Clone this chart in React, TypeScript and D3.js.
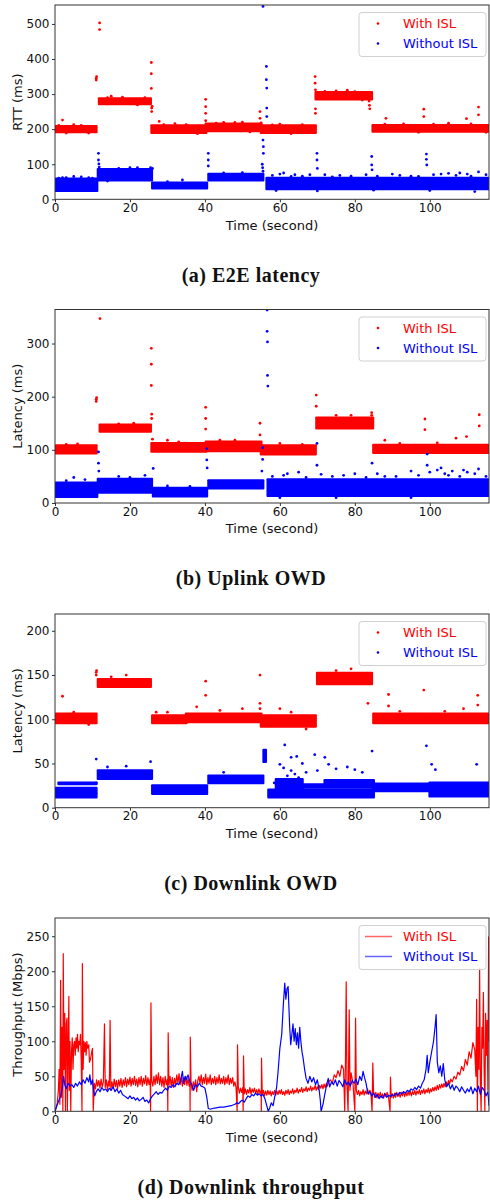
import React, { useEffect, useRef } from "react";
import * as d3 from "d3";

type Band = [number, number, number, number]; // t0, t1, lo, hi
type Pt = [number, number];

const xTicks = [0, 20, 40, 60, 80, 100];
const e2eTicks = [0, 100, 200, 300, 400, 500];
const upTicks = [0, 100, 200, 300];
const downTicks = [0, 50, 100, 150, 200];
const thrTicks = [0, 50, 100, 150, 200, 250];
const seriesNames = ["With ISL", "Without ISL"];
const captions = ["(a) E2E latency", "(b) Uplink OWD", "(c) Downlink OWD", "(d) Downlink throughput"];
const yLabels = ["RTT (ms)", "Latency (ms)", "Latency (ms)", "Throughput (Mbps)"];

// (a) E2E latency
const e2eIslBands: Band[] = [
  [0.3, 11, 192, 208], [11.8, 25.5, 272, 287], [25.8, 40.3, 190, 210],
  [40.3, 55, 195, 215], [55, 69.5, 190, 210], [69.6, 84.5, 286, 305], [84.8, 115.8, 194, 211],
];
const e2eIslPts: Pt[] = [
  [2, 226], [11, 340], [11, 345], [11.1, 350], [11.9, 484], [11.9, 503], [15, 294], [25.7, 390],
  [25.7, 358], [25.7, 316], [25.8, 260], [25.8, 250], [25.9, 265], [27.8, 222], [40.2, 285],
  [40.2, 264], [40.2, 245], [40.2, 224], [54.7, 250], [54.7, 231], [55, 218], [69.4, 350],
  [69.4, 331], [69.5, 312], [69.5, 258], [69.5, 245], [83.8, 280], [83.9, 268], [84, 258],
  [88.3, 231], [98.4, 257], [98.4, 236], [109.8, 230], [113, 263], [113, 241], [5, 213],
  [32, 216], [45, 219], [60, 214], [75, 309], [78, 311], [93, 215], [105, 217], [50, 220],
  [1, 211], [3, 189], [7, 211], [9, 189], [14, 290], [18, 291], [22, 269], [24, 290], [29, 213],
  [35, 213], [38, 187], [43, 217], [48, 219], [52, 192], [58, 212], [63, 187], [66, 213], [72, 308],
  [80, 307], [82, 283], [88, 214], [97, 191], [101, 214], [111, 215], [115, 191],
];
const e2eNoIslBands: Band[] = [
  [0.3, 11.2, 25, 58], [11.5, 25.8, 55, 85], [26, 40.5, 32, 47], [41, 55.5, 55, 72], [56.5, 115.8, 30, 60],
];
const e2eNoIslPts: Pt[] = [
  [11.6, 131], [11.6, 112], [11.7, 101], [11.8, 92], [26, 88], [25.5, 90], [40.9, 131], [40.9, 112],
  [40.9, 95], [55.3, 100], [55.4, 90], [55.5, 80], [55.5, 169], [55.6, 150], [55.6, 131], [55.5, 550],
  [56.4, 379], [56.4, 341], [56.5, 317], [56.5, 260], [56.5, 236], [69.9, 131], [69.9, 112],
  [70, 88], [84.5, 122], [84.5, 98], [84.6, 84], [99.1, 129], [99.1, 114], [99.2, 98], [5, 65],
  [9, 62], [34, 55], [61, 75], [64, 70], [76, 68], [90, 72], [101, 70], [105, 74], [110, 72],
  [113, 78], [2, 62], [17, 88], [22, 90], [66, 66], [72, 70], [95, 66], [107, 68],
  [58, 68], [60, 72], [63, 65], [68, 70], [74, 64], [79, 66], [83, 70], [86, 66], [92, 68], [97, 65],
  [103, 72], [108, 75], [111, 66], [115, 70], [59, 25], [70, 24], [85, 26], [100, 25], [112, 22],
  [1, 60], [3, 62], [7, 64], [10, 60], [14, 52], [20, 90], [30, 50], [45, 75], [50, 76],
];

// (b) Uplink OWD
const upIslBands: Band[] = [
  [0.3, 11, 94, 108], [12, 25.5, 135, 147], [25.8, 40.3, 97, 112], [40.3, 55, 98, 115],
  [55, 69.5, 92, 108], [69.8, 84.8, 141, 160], [85, 115.8, 95, 109],
];
const upIslPts: Pt[] = [
  [11, 191], [11, 195], [11.1, 198], [12, 347], [25.7, 291], [25.7, 261], [25.7, 221], [25.8, 167],
  [25.8, 159], [26, 120], [40.2, 180], [40.2, 159], [40.2, 139], [54.7, 150], [54.7, 128],
  [69.7, 203], [69.7, 182], [84.5, 170], [84.5, 165], [98.7, 158], [98.7, 138], [113.2, 166],
  [113.2, 145], [109.8, 125], [107, 122], [88, 118], [30, 118], [21, 150], [75, 165], [79, 165],
  [3, 110], [60, 112], [48, 118], [6, 111], [17, 149], [33, 115], [44, 118], [66, 110], [92, 112],
  [102, 113],
];
const upNoIslBands: Band[] = [
  [0.3, 11.2, 12, 38], [11.5, 25.8, 20, 45], [26.2, 40.5, 13, 28], [41, 55.5, 28, 42], [56.8, 115.8, 14, 44],
];
const upNoIslPts: Pt[] = [
  [11.6, 96], [11.6, 75], [11.7, 60], [26.2, 65], [40.5, 102], [40.5, 81], [40.6, 66], [55.4, 82],
  [55.4, 104], [55.2, 60], [56.6, 363], [56.6, 323], [56.7, 303], [56.7, 240], [56.8, 220],
  [69.9, 112], [69.9, 71], [84.6, 75], [99.3, 92], [99.3, 71], [5, 48], [17, 50], [24, 52],
  [62, 55], [65, 58], [80, 55], [95, 60], [102, 62], [106, 60], [110, 58], [113, 64], [108, 50],
  [20, 48], [104, 55], [88, 50], [58, 50], [61, 52], [67, 48], [71, 54], [74, 50], [77, 52],
  [83, 48], [86, 55], [91, 50], [97, 52], [100, 58], [103, 66], [105, 52], [109, 62], [112, 55],
  [115, 50], [60, 10], [75, 10], [95, 10], [3, 42], [8, 44], [30, 32], [36, 31],
];

// (c) Downlink OWD
const downIslBands: Band[] = [
  [0.3, 11, 96, 106], [11.5, 25.5, 137, 145], [26, 35, 96, 104], [35, 55, 97, 106],
  [55, 69.5, 92, 104], [70, 84.5, 140, 152], [85, 115.8, 96, 106],
];
const downIslPts: Pt[] = [
  [2, 126], [11, 150], [11, 153], [11.1, 155], [15, 148], [19, 150], [27, 108], [37.8, 114],
  [40.2, 143], [40.2, 127], [54.7, 150], [54.7, 118], [54.7, 112], [83.5, 118], [89, 128],
  [89, 115], [98.4, 133], [112.8, 127], [112.8, 116], [75, 155], [79, 157], [109, 112], [50, 112], [60, 112],
  [5, 108], [9, 94], [30, 108], [44, 110], [63, 108], [67, 89], [92, 109], [104, 109],
];
const downNoIslBands: Band[] = [
  [0.3, 11, 12, 16], [0.3, 11, 18, 22], [1, 11, 27, 28], [11.5, 25.8, 33, 42], [26, 40.5, 16, 25],
  [41, 55.5, 28, 36], [55.7, 56.2, 52, 65], [57, 85, 12, 20], [60, 85, 23, 26], [72, 85, 28, 31],
  [59, 66, 13, 32], [85, 100, 19, 27], [100, 115.8, 13, 24], [100, 115.8, 26, 28],
];
const downNoIslPts: Pt[] = [
  [11, 55], [11, 28], [14, 46], [19, 47], [25.5, 52], [45, 40], [60, 49], [61.3, 71], [63, 57],
  [64.5, 58], [69.3, 60], [72, 57], [73, 49], [75, 44], [78, 46], [80, 43], [84.6, 64], [99.1, 70],
  [100.5, 49], [101.5, 43], [112.5, 49], [66, 50], [82, 40], [58.5, 28], [62, 36], [64, 38],
  [65, 34], [67, 40], [70, 42], [61, 45], [63, 42],
];

// (d) Downlink throughput
const thrIsl: Pt[] = [
  [0, 0], [0.3, 5], [0.6, 12], [0.9, 30], [1.1, 60], [1.3, 10], [1.5, 187], [1.7, 20], [1.9, 120],
  [2.1, 0], [2.2, 225], [2.4, 60], [2.6, 140], [2.8, 0], [3.0, 125], [3.2, 133], [3.3, 0], [3.5, 90],
  [3.7, 164], [3.8, 30], [4.0, 100], [4.2, 0], [4.4, 85], [4.6, 105], [4.8, 60], [5.0, 95], [5.2, 100],
  [5.4, 80], [5.6, 105], [5.8, 90], [6.0, 110], [6.2, 85], [6.4, 100], [6.6, 95], [6.8, 110], [7.0, 70],
  [7.2, 0], [7.3, 211], [7.5, 60], [7.7, 100], [7.9, 85], [8.1, 98], [8.3, 80], [8.5, 100], [8.7, 90],
  [9.0, 95], [9.2, 70], [9.5, 75], [9.8, 85], [10.0, 90], [10.2, 0],
  [10.5, 40], [10.8, 32], [11.1, 45], [11.4, 36], [11.7, 44], [12.0, 33], [12.3, 46], [12.6, 35],
  [12.9, 42], [13.2, 125], [13.4, 34], [13.7, 45], [14.0, 31], [14.3, 43], [14.5, 36], [14.7, 130],
  [14.9, 30], [15.2, 42], [15.5, 33], [15.8, 46], [16.1, 35], [16.4, 44], [16.7, 32], [17.0, 45],
  [17.3, 36], [17.6, 47], [17.9, 34], [18.2, 45], [18.5, 37], [18.8, 48], [19.1, 35], [19.4, 46],
  [19.7, 38], [20.0, 49], [20.3, 36], [20.6, 47], [20.9, 38], [21.2, 50], [21.5, 37], [21.8, 46],
  [22.1, 35], [22.4, 48], [22.7, 38], [23.0, 50], [23.3, 36], [23.6, 47], [23.9, 39], [24.2, 51],
  [24.5, 37], [24.8, 48], [25.1, 38], [25.4, 46], [25.5, 0], [25.6, 155], [25.8, 44], [26.1, 36],
  [26.4, 50], [26.7, 38], [27.0, 52], [27.3, 40], [27.6, 55], [27.9, 38], [28.2, 50], [28.5, 36],
  [28.8, 48], [29.1, 34], [29.4, 50], [29.7, 38], [30.0, 46], [30.1, 0], [30.2, 112], [30.4, 38],
  [30.7, 50], [31.0, 36], [31.3, 48], [31.6, 34], [31.9, 47], [32.2, 38], [32.5, 52], [32.8, 40],
  [33.1, 54], [33.4, 38], [33.7, 49], [34.0, 36], [34.3, 48], [34.6, 38], [34.9, 50], [35.2, 37],
  [35.5, 47], [35.8, 36], [36.0, 40], [36.05, 0], [36.1, 106], [36.3, 40], [36.6, 30], [36.9, 42],
  [37.2, 33], [37.5, 45], [37.8, 28], [38.1, 44], [38.4, 50], [38.7, 40], [39.0, 52], [39.3, 38],
  [39.6, 48], [39.9, 40], [40.2, 53], [40.5, 38], [40.8, 48], [41.1, 40], [41.4, 52], [41.7, 38],
  [42.0, 47], [42.3, 40], [42.6, 50], [42.9, 38], [43.2, 48], [43.5, 40], [43.8, 52], [44.1, 39],
  [44.4, 47], [44.7, 40], [45.0, 50], [45.3, 38], [45.6, 48], [45.9, 40], [46.2, 52], [46.5, 38],
  [46.8, 47], [47.1, 40], [47.4, 48], [47.7, 36], [48.0, 42], [48.3, 34], [48.6, 0],
  [48.7, 95], [48.9, 35], [49.2, 26], [49.5, 33], [49.8, 27], [50.1, 34], [50.2, 0], [50.3, 79],
  [50.5, 25], [50.8, 32], [51.1, 24], [51.4, 31], [51.7, 26], [52.0, 34], [52.3, 25], [52.6, 32],
  [52.9, 27], [53.2, 33], [53.5, 26], [53.8, 31], [54.1, 24], [54.4, 32], [54.7, 26], [55.0, 30],
  [55.05, 0], [55.1, 76], [55.3, 24], [55.6, 30], [55.9, 22], [56.2, 29], [56.5, 23], [56.8, 30],
  [57.1, 24], [57.4, 29], [57.7, 22], [58.0, 28], [58.3, 24], [58.6, 30], [58.9, 23], [59.2, 29],
  [59.5, 24], [59.8, 30], [60.1, 25], [60.4, 31], [60.7, 24], [61.0, 28], [61.3, 23], [61.6, 30],
  [61.9, 25], [62.2, 31], [62.5, 24], [62.8, 29], [63.1, 26], [63.4, 32], [63.7, 25], [64.0, 30],
  [64.3, 27], [64.6, 33], [64.9, 26], [65.2, 31], [65.5, 28], [65.8, 34], [66.1, 27], [66.4, 32],
  [66.7, 29], [67.0, 35], [67.3, 28], [67.6, 33], [67.9, 30], [68.2, 36], [68.5, 29], [68.8, 34],
  [69.1, 31], [69.4, 37], [69.7, 30], [70.0, 35], [70.3, 31], [70.6, 37], [70.9, 33], [71.2, 38],
  [71.5, 32], [71.8, 39], [72.1, 34], [72.4, 40], [72.7, 36], [73.0, 42], [73.5, 45], [74, 40],
  [74.5, 52], [75, 48], [75.5, 58], [76, 50], [76.5, 66], [77, 60], [77.3, 0], [77.5, 70], [77.7, 185],
  [77.9, 40], [78.2, 0], [78.5, 145], [78.7, 30], [79, 55], [79.5, 40], [80, 0], [80.2, 133],
  [80.4, 30], [80.7, 24], [81.0, 30], [81.3, 22], [81.6, 28], [81.9, 24], [82.2, 31], [82.5, 23],
  [82.8, 29], [83.1, 25], [83.4, 32], [83.7, 24], [84.0, 30], [84.3, 26], [84.6, 0], [84.8, 69],
  [85.0, 28], [85.3, 20], [85.6, 27], [85.9, 19], [86.2, 26], [86.5, 21], [86.8, 27], [87.1, 20],
  [87.4, 25], [87.7, 19], [88.0, 26], [88.3, 21], [88.6, 27], [89.0, 20], [89.4, 0], [89.5, 49],
  [89.7, 20], [90.0, 25], [90.3, 19], [90.6, 26], [90.9, 20], [91.2, 27], [91.5, 21], [91.8, 26],
  [92.1, 20], [92.4, 27], [92.7, 22], [93.0, 28], [93.3, 21], [93.6, 27], [93.9, 22], [94.2, 28],
  [94.5, 23], [94.8, 29], [95.1, 22], [95.4, 28], [95.7, 24], [96.0, 30], [96.3, 23], [96.6, 29],
  [96.9, 25], [97.2, 31], [97.5, 24], [97.8, 30], [98.1, 26], [98.4, 32], [98.7, 25], [99.0, 31],
  [99.3, 27], [99.6, 33], [99.9, 26], [100.2, 32], [100.5, 28], [100.8, 34], [101.1, 29], [101.4, 35],
  [101.7, 30], [102.0, 37], [102.3, 31], [102.6, 38], [102.9, 33], [103.2, 39], [103.5, 34],
  [103.8, 40], [104.1, 35], [104.4, 42], [104.7, 37], [105.0, 44], [105.3, 39], [105.6, 46], [106, 42],
  [106.5, 50], [107, 46], [107.5, 56], [108, 52], [108.5, 64], [109, 58], [109.5, 74], [110, 66],
  [110.5, 85], [111, 76], [111.5, 98], [112, 88], [112.3, 50], [112.5, 160], [112.7, 0], [112.9, 120],
  [113.1, 60], [113.3, 204], [113.5, 40], [113.7, 0], [113.9, 120], [114.1, 90], [114.3, 170],
  [114.5, 60], [114.7, 0], [114.9, 140], [115.1, 80], [115.3, 130], [115.5, 30], [115.7, 249], [115.8, 100],
];
const thrNoIsl: Pt[] = [
  [0, 0], [0.5, 8], [1, 15], [1.5, 22], [2, 35], [2.3, 50], [2.6, 38], [3, 32], [3.5, 40], [4, 36],
  [4.5, 38], [5, 34], [5.5, 40], [6, 36], [6.5, 42], [7, 38], [7.5, 45], [8, 40], [8.5, 48], [9, 42],
  [9.3, 52], [9.6, 38], [10, 45], [10.3, 30], [10.6, 22], [11, 28], [11.5, 32], [12, 28], [12.5, 34],
  [13, 30], [13.5, 32], [14, 28], [14.5, 33], [15, 30], [15.5, 35], [16, 28], [16.5, 32], [17, 26],
  [17.5, 30], [18, 24], [18.5, 22], [19, 20], [19.5, 18], [20, 22], [20.5, 18], [21, 20], [21.5, 16],
  [22, 19], [22.5, 15], [23, 17], [23.5, 20], [24, 14], [24.5, 16], [25, 12], [25.5, 18], [26, 22],
  [26.5, 25], [27, 28], [27.5, 24], [28, 27], [28.5, 26], [29, 30], [29.5, 33], [30, 30], [30.5, 36],
  [31, 34], [31.5, 38], [32, 35], [32.5, 40], [33, 38], [33.5, 44], [34, 57], [34.3, 40], [34.7, 50],
  [35, 45], [35.5, 52], [36, 42], [36.5, 38], [37, 30], [37.5, 38], [38, 35], [38.5, 40], [39, 36],
  [39.5, 35], [40, 33], [40.5, 20], [40.9, 4], [41.5, 3], [42, 4], [43, 5], [44, 6], [45, 6], [46, 7],
  [47, 8], [48, 10], [48.5, 12], [49, 11], [49.5, 14], [50, 16], [50.5, 13], [51, 18], [51.5, 22],
  [52, 20], [52.5, 24], [53, 22], [53.5, 26], [54, 23], [54.5, 25], [55, 22], [55.5, 24], [56, 18],
  [56.5, 8], [56.9, 0], [57.3, 5], [57.7, 12], [58.2, 8], [58.6, 20], [59.1, 33], [59.5, 55], [60, 90],
  [60.5, 110], [60.9, 150], [61.3, 183], [61.6, 160], [61.9, 175], [62.2, 178], [62.4, 150], [62.6, 123],
  [62.9, 95], [63.2, 110], [63.5, 125], [63.8, 100], [64.1, 118], [64.4, 95], [64.7, 112], [65, 90],
  [65.3, 120], [65.6, 100], [65.9, 85], [66.2, 76], [66.6, 60], [67, 47], [67.5, 40], [68, 50],
  [68.5, 42], [69, 48], [69.5, 38], [70, 45], [70.5, 30], [70.8, 15], [71, 0], [71.5, 10], [72, 25],
  [72.5, 38], [72.9, 47], [73.3, 35], [73.8, 42], [74.3, 38], [74.8, 45], [75.3, 36], [75.8, 44],
  [76.3, 40], [76.8, 35], [77.3, 45], [77.8, 38], [78.3, 42], [78.8, 36], [79.3, 44], [79.8, 40],
  [80.3, 46], [80.8, 38], [81.3, 50], [81.8, 44], [82.2, 57], [82.6, 48], [83, 40], [83.5, 25], [84, 28],
  [84.5, 22], [85, 26], [85.5, 20], [86, 24], [86.5, 18], [87, 22], [87.5, 19], [88, 25], [88.5, 20],
  [89, 23], [89.5, 21], [90, 24], [90.5, 22], [91, 26], [91.5, 23], [92, 27], [92.5, 25], [93, 28],
  [93.5, 26], [94, 30], [94.5, 28], [95, 32], [95.5, 30], [96, 34], [96.5, 31], [97, 36], [97.5, 33],
  [98, 40], [98.5, 45], [99, 60], [99.3, 80], [99.6, 55], [100, 70], [100.5, 85], [101, 100], [101.4, 120],
  [101.7, 138], [102, 71], [102.4, 55], [102.8, 65], [103.2, 50], [103.6, 68], [104, 45], [104.5, 35],
  [105, 40], [105.5, 32], [106, 38], [106.5, 30], [107, 36], [107.5, 33], [108, 28], [108.5, 35],
  [109, 30], [109.5, 26], [110, 32], [110.5, 28], [111, 35], [111.5, 25], [112, 33], [112.5, 28],
  [113, 36], [113.5, 24], [114, 34], [114.5, 30], [115, 22], [115.5, 28], [115.8, 8],
];

const RED = "#ff0000";
const BLUE = "#0000ff";
const X0 = 55;
const X1 = 489;
const T_MAX = 115.8;
const R = 1.4;

const layouts = [
  { top: 5, bottom: 199.3, yMax: 554, timeY: 225, capY: 275 },
  { top: 309.5, bottom: 503, yMax: 364, timeY: 528, capY: 578 },
  { top: 614, bottom: 807.7, yMax: 219, timeY: 833, capY: 883 },
  { top: 918, bottom: 1111.3, yMax: 276, timeY: 1137, capY: 1187 },
];
const yTickSets = [e2eTicks, upTicks, downTicks, thrTicks];
const scatterData = [
  [[e2eIslBands, e2eIslPts], [e2eNoIslBands, e2eNoIslPts]],
  [[upIslBands, upIslPts], [upNoIslBands, upNoIslPts]],
  [[downIslBands, downIslPts], [downNoIslBands, downNoIslPts]],
] as [Band[], Pt[]][][];

export default function App() {
  const svgRef = useRef<SVGSVGElement>(null);

  useEffect(() => {
    const svg = d3.select(svgRef.current);
    svg.selectAll("*").remove();
    const colors = [RED, BLUE];

    layouts.forEach((p, i) => {
      const x = d3.scaleLinear().domain([0, T_MAX]).range([X0, X1]);
      const y = d3.scaleLinear().domain([0, p.yMax]).range([p.bottom, p.top]);
      const g = svg.append("g");
      const clipId = "clip" + i;
      g.append("clipPath").attr("id", clipId).append("rect")
        .attr("x", X0).attr("y", p.top).attr("width", X1 - X0).attr("height", p.bottom - p.top);
      const plot = g.append("g").attr("clip-path", `url(#${clipId})`);

      if (i < 3) {
        scatterData[i].forEach(([bands, pts], si) => {
          plot.selectAll(null).data(bands).join("rect")
            .attr("x", d => x(d[0]) - R)
            .attr("y", d => y(d[3]) - R)
            .attr("width", d => x(d[1]) - x(d[0]) + 2 * R)
            .attr("height", d => y(d[2]) - y(d[3]) + 2 * R)
            .attr("rx", 1)
            .attr("fill", colors[si]);
          plot.selectAll(null).data(pts).join("circle")
            .attr("cx", d => x(d[0]))
            .attr("cy", d => y(d[1]))
            .attr("r", R)
            .attr("fill", colors[si]);
        });
      } else {
        const ln = d3.line<Pt>().x(d => x(d[0])).y(d => y(d[1]));
        [thrIsl, thrNoIsl].forEach((data, si) => {
          plot.append("path").datum(data)
            .attr("d", ln)
            .attr("fill", "none")
            .attr("stroke", colors[si])
            .attr("stroke-width", 1.2)
            .attr("stroke-linejoin", "round");
        });
      }

      // frame
      g.append("rect")
        .attr("x", X0).attr("y", p.top).attr("width", X1 - X0).attr("height", p.bottom - p.top)
        .attr("fill", "none").attr("stroke", "#333").attr("stroke-width", 1);

      // axes
      const xa = g.append("g").attr("transform", `translate(0,${p.bottom})`)
        .call(d3.axisBottom(x).tickValues(xTicks).tickSize(3).tickPadding(1));
      const ya = g.append("g").attr("transform", `translate(${X0},0)`)
        .call(d3.axisLeft(y).tickValues(yTickSets[i]).tickSize(3).tickPadding(2.5));
      [xa, ya].forEach(a => {
        a.select(".domain").remove();
        a.attr("font-size", 12).attr("font-family", "DejaVu Sans");
        a.selectAll("text").attr("fill", "#111");
        a.selectAll("line").attr("stroke", "#333");
      });

      g.append("text")
        .attr("x", (X0 + X1) / 2).attr("y", p.timeY)
        .attr("text-anchor", "middle").attr("dominant-baseline", "central")
        .attr("font-family", "DejaVu Sans").attr("font-size", 13).attr("fill", "#111")
        .text("Time (second)");
      g.append("text")
        .attr("transform", `translate(17,${(p.top + p.bottom) / 2}) rotate(-90)`)
        .attr("text-anchor", "middle").attr("dominant-baseline", "central")
        .attr("font-family", "DejaVu Sans").attr("font-size", 13).attr("fill", "#111")
        .text(yLabels[i]);
      g.append("text")
        .attr("x", 251).attr("y", p.capY)
        .attr("text-anchor", "middle").attr("dominant-baseline", "central")
        .attr("font-family", "Liberation Serif").attr("font-weight", "bold")
        .attr("font-size", 20).attr("letter-spacing", 0.5).attr("fill", "#111")
        .text(captions[i]);

      // legend
      const lg = g.append("g").attr("transform", `translate(359,${p.top + 7.5})`);
      lg.append("rect").attr("width", 127).attr("height", 44).attr("rx", 3)
        .attr("fill", "white").attr("fill-opacity", 0.8).attr("stroke", "#d0d0d0");
      seriesNames.forEach((name, si) => {
        const cy = 11 + si * 20;
        if (i < 3) {
          lg.append("circle").attr("cx", 19).attr("cy", cy).attr("r", 1.3).attr("fill", colors[si]);
        } else {
          lg.append("line").attr("x1", 6).attr("x2", 33).attr("y1", cy).attr("y2", cy)
            .attr("stroke", colors[si]).attr("stroke-opacity", 0.6).attr("stroke-width", 1.5);
        }
        lg.append("text").attr("x", 44).attr("y", cy)
          .attr("dominant-baseline", "central")
          .attr("font-family", "DejaVu Sans").attr("font-size", 13).attr("fill", colors[si])
          .text(name);
      });
    });
  }, []);

  return (
    <div style={{ position: "absolute", left: 0, top: 0 }}>
      <svg ref={svgRef} width={490} height={1200} style={{ display: "block", background: "white" }} />
    </div>
  );
}
